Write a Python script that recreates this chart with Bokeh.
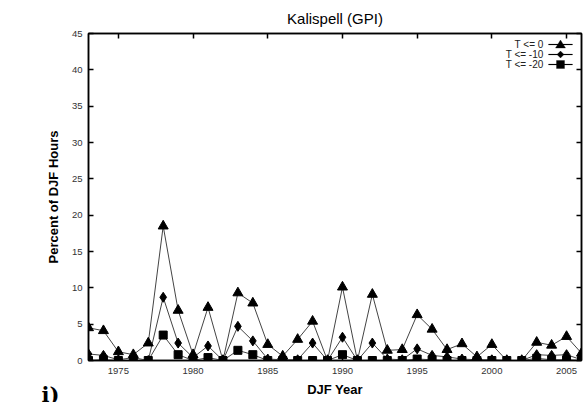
from bokeh.plotting import figure
from bokeh.models import Range1d, LinearAxis, FixedTicker, Label, PolyAnnotation, ColumnDataSource
from bokeh.embed import file_html
from bokeh.resources import INLINE

title = "Kalispell (GPI)"
years = [1973, 1974, 1975, 1976, 1977, 1978, 1979, 1980, 1981, 1982, 1983, 1984,
         1985, 1986, 1987, 1988, 1989, 1990, 1991, 1992, 1993, 1994, 1995, 1996,
         1997, 1998, 1999, 2000, 2001, 2002, 2003, 2004, 2005, 2006]
t_le_0 = [4.5, 4.1, 1.2, 0.8, 2.4, 18.5, 6.9, 0.8, 7.3, 0.0, 9.3, 7.9, 2.2, 0.6,
          2.9, 5.4, 0.0, 10.1, 0.0, 9.1, 1.4, 1.5, 6.3, 4.3, 1.5, 2.3, 0.5, 2.2,
          0.0, 0.0, 2.5, 2.1, 3.3, 1.0]
t_le_m10 = [0.9, 0.7, 0.1, 0.4, 0.0, 8.7, 2.4, 0.4, 2.0, 0.0, 4.7, 2.7, 0.2, 0.1,
            0.1, 2.4, 0.0, 3.2, 0.0, 2.4, 0.2, 0.1, 1.6, 0.7, 0.5, 0.2, 0.1, 0.1,
            0.0, 0.0, 0.8, 0.7, 0.8, 0.1]
t_le_m20 = [0.0, 0.1, 0.0, 0.0, 0.0, 3.5, 0.8, 0.0, 0.4, 0.0, 1.4, 0.8, 0.0, 0.0,
            0.0, 0.0, 0.0, 0.8, 0.0, 0.0, 0.0, 0.0, 0.2, 0.1, 0.0, 0.0, 0.0, 0.0,
            0.0, 0.0, 0.3, 0.1, 0.1, 0.0]
labels = ["T <= 0", "T <= -10", "T <= -20"]
x_ticks = [1975, 1980, 1985, 1990, 1995, 2000, 2005]
y_ticks = [0, 5, 10, 15, 20, 25, 30, 35, 40, 45]

FONT = "Liberation Sans"
LINE_C = "#444444"

p = figure(width=586, height=402, output_backend="svg", toolbar_location=None,
           x_range=Range1d(1973, 2006), y_range=Range1d(0, 45),
           min_border_left=88, min_border_right=5, min_border_top=33,
           min_border_bottom=42)
p.title.text = title
p.title.align = "center"
p.title.text_font = FONT
p.title.text_font_size = "15px"
p.title.text_font_style = "normal"
p.title.text_color = "black"
p.title.standoff = 13

p.xgrid.visible = False
p.ygrid.visible = False
p.outline_line_color = "black"
p.outline_line_width = 1.5
p.background_fill_color = "white"
p.border_fill_color = "white"

for ax in p.xaxis + p.yaxis:
    ax.major_tick_in = 5
    ax.major_tick_out = 0
    ax.minor_tick_in = 0
    ax.minor_tick_out = 0
    ax.axis_line_color = "black"
    ax.axis_line_width = 1.5
    ax.major_tick_line_color = "black"
    ax.major_tick_line_width = 1.5
    ax.major_label_text_font = FONT
    ax.major_label_text_font_size = "9.5px"
    ax.major_label_text_color = "#333333"
    ax.axis_label_text_font = FONT
    ax.axis_label_text_font_size = "13px"
    ax.axis_label_text_font_style = "bold"
    ax.axis_label_text_color = "black"

p.xaxis.ticker = FixedTicker(ticks=x_ticks)
p.yaxis.ticker = FixedTicker(ticks=y_ticks)
p.xaxis.axis_label = "DJF Year"
p.yaxis.axis_label = "Percent of DJF Hours"
p.xaxis.major_label_standoff = 7
p.yaxis.major_label_standoff = 6
p.xaxis.axis_label_standoff = 5
p.yaxis.axis_label_standoff = 8

# mirrored axes (ticks only, no labels)
top = LinearAxis(ticker=FixedTicker(ticks=x_ticks),
                 major_label_overrides={t: "" for t in x_ticks})
right = LinearAxis(ticker=FixedTicker(ticks=y_ticks),
                   major_label_overrides={t: "" for t in y_ticks})
for ax in (top, right):
    ax.major_tick_in = 5
    ax.major_tick_out = 0
    ax.minor_tick_in = 0
    ax.minor_tick_out = 0
    ax.axis_line_color = "black"
    ax.axis_line_width = 1.5
    ax.major_tick_line_width = 1.5
    ax.major_label_standoff = 0
p.add_layout(top, "above")
p.add_layout(right, "right")

src = ColumnDataSource(dict(x=years, a=t_le_0, b=t_le_m10, c=t_le_m20))

p.line("x", "a", source=src, line_color=LINE_C, line_width=1)
p.line("x", "b", source=src, line_color=LINE_C, line_width=1)
p.line("x", "c", source=src, line_color=LINE_C, line_width=1)
p.scatter("x", "a", source=src, marker="triangle", size=10, color="black")
p.scatter("x", "b", source=src, marker="diamond", size=10, color="black")
p.scatter("x", "c", source=src, marker="square", size=8, color="black")

# legend (gnuplot style: text right-aligned, then line sample with marker)
rows_y = [316, 306, 296]
txt_x = 455
for lab, ry in zip(labels, rows_y):
    p.add_layout(Label(x=txt_x, y=ry, x_units="screen", y_units="screen", text=lab,
                       text_align="right", text_baseline="middle",
                       text_font=FONT, text_font_size="10px", text_color="#222222"))
    p.add_layout(PolyAnnotation(xs=[460, 484, 484, 460], ys=[ry + 0.5, ry + 0.5, ry - 0.5, ry - 0.5],
                                xs_units="screen", ys_units="screen",
                                fill_color="black", fill_alpha=1, line_color="black",
                                line_width=0.5))
mx = 472
r0, r1, r2 = rows_y
p.add_layout(PolyAnnotation(xs=[mx - 5, mx + 5, mx], ys=[r0 - 3.5, r0 - 3.5, r0 + 4.5],
                            xs_units="screen", ys_units="screen",
                            fill_color="black", fill_alpha=1, line_color="black"))
p.add_layout(PolyAnnotation(xs=[mx - 3.5, mx, mx + 3.5, mx], ys=[r1, r1 + 3.5, r1, r1 - 3.5],
                            xs_units="screen", ys_units="screen",
                            fill_color="black", fill_alpha=1, line_color="black"))
p.add_layout(PolyAnnotation(xs=[mx - 4, mx + 4, mx + 4, mx - 4], ys=[r2 - 4, r2 - 4, r2 + 4, r2 + 4],
                            xs_units="screen", ys_units="screen",
                            fill_color="black", fill_alpha=1, line_color="black"))

p.add_layout(Label(x=17, y=-34, x_units="screen", y_units="screen", text="i)",
                   text_font="DejaVu Serif", text_font_size="21px", text_font_style="bold",
                   text_color="black", text_baseline="alphabetic"), "left")

open("out.html", "w").write(file_html(p, INLINE))
